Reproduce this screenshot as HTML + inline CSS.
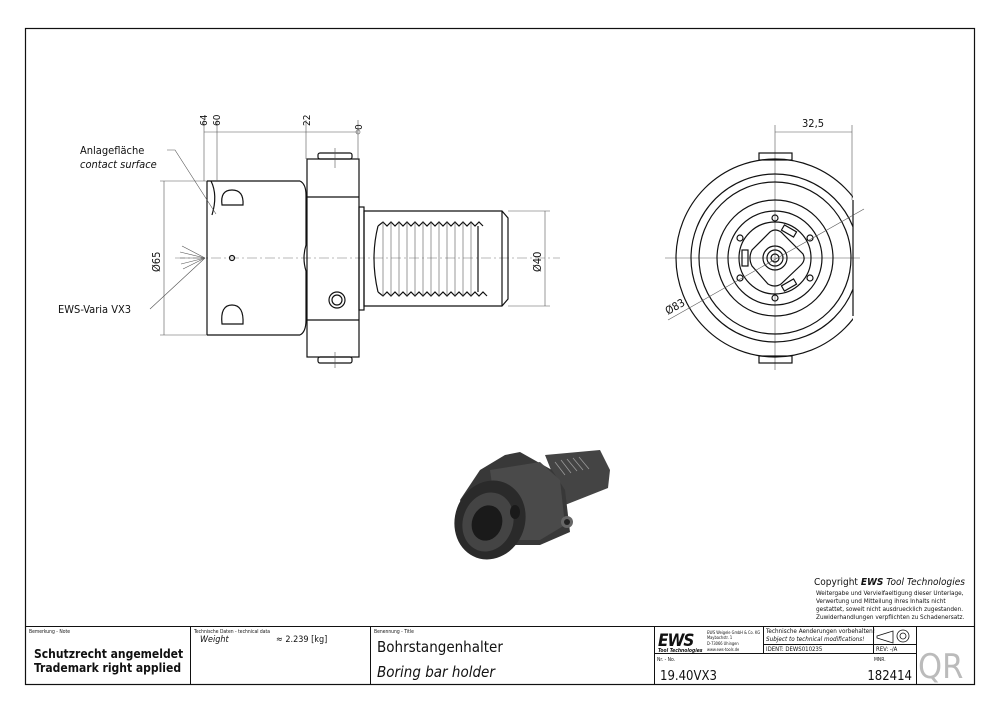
<!DOCTYPE html>
<html><head><meta charset="utf-8"><style>
html,body{margin:0;padding:0;background:#fff;}
svg{display:block;}
text{font-family:"DejaVu Sans Condensed","Liberation Sans",sans-serif;fill:#111;}
.s{fill:none;stroke:#111;stroke-width:1.2;}
.t{fill:none;stroke:#555;stroke-width:0.6;}
.c{fill:none;stroke:#777;stroke-width:0.6;stroke-dasharray:10 3 2 3;}
</style></head><body>
<svg width="1000" height="715" viewBox="0 0 1000 715" xmlns="http://www.w3.org/2000/svg">
<rect x="0" y="0" width="1000" height="715" fill="#fff"/>
<rect x="25.5" y="28.5" width="949" height="656" fill="none" stroke="#111" stroke-width="1.2"/>

<!-- SIDE VIEW -->
<line class="c" x1="175" y1="258" x2="560" y2="258"/>
<path class="s" d="M207 181 H300 M207 335 H300 M207 181 V335"/>
<path class="s" d="M300 181 Q306 184 306 195 V245 Q302 258 306 271 V320 Q306 332 300 335"/>
<rect class="s" x="307" y="159" width="52" height="198"/>
<line class="s" x1="307" y1="197" x2="359" y2="197"/>
<line class="s" x1="307" y1="320" x2="359" y2="320"/>
<rect class="s" x="318" y="153" width="34" height="6" rx="2"/>
<rect class="s" x="318" y="357" width="34" height="6" rx="2"/>
<line class="t" x1="335" y1="148" x2="335" y2="168"/>
<line class="t" x1="335" y1="352" x2="335" y2="368"/>
<rect class="s" x="359" y="207" width="5" height="103"/>
<path class="s" d="M364 211 H502 L508 218 V299 L502 306 H364 Z"/>
<line class="s" x1="502" y1="211" x2="502" y2="306"/>
<path class="s" d="M378 226 Q370 258 378 292"/>
<path class="s" d="M378 226 l5 -4 l4 4 l4 -4 l4 4 l4 -4 l4 4 l4 -4 l4 4 l4 -4 l4 4 l4 -4 l4 4 l4 -4 l4 4 l4 -4 l4 4 l4 -4 l4 4 l4 -4 l4 4 l4 -4 l4 4 l4 -4 l4 4 l4 -4 l4 4"/>
<path class="s" d="M378 292 l5 4 l4 -4 l4 4 l4 -4 l4 4 l4 -4 l4 4 l4 -4 l4 4 l4 -4 l4 4 l4 -4 l4 4 l4 -4 l4 4 l4 -4 l4 4 l4 -4 l4 4 l4 -4 l4 4 l4 -4 l4 4 l4 -4 l4 4 l4 -4 l4 4"/>
<g class="t"><line x1="383" y1="222" x2="383" y2="296"/><line x1="391" y1="222" x2="391" y2="296"/><line x1="399" y1="222" x2="399" y2="296"/><line x1="407" y1="222" x2="407" y2="296"/><line x1="415" y1="222" x2="415" y2="296"/><line x1="423" y1="222" x2="423" y2="296"/><line x1="431" y1="222" x2="431" y2="296"/><line x1="439" y1="222" x2="439" y2="296"/><line x1="447" y1="222" x2="447" y2="296"/><line x1="455" y1="222" x2="455" y2="296"/><line x1="463" y1="222" x2="463" y2="296"/><line x1="471" y1="222" x2="471" y2="296"/></g>
<line class="s" x1="478" y1="226" x2="478" y2="292"/>
<path class="s" d="M222 205 Q220 190 232 190 Q244 190 243 205 Z"/>
<path class="s" d="M222 324 Q220 305 232 305 Q244 305 243 324 Z"/>
<circle class="s" cx="232" cy="258" r="2.5"/>
<circle class="s" cx="337" cy="300" r="8"/><circle class="s" cx="337" cy="300" r="5"/>
<path class="s" d="M211 181 Q218 195 212 215"/>
<line class="t" x1="204" y1="132" x2="358" y2="132"/>
<line class="t" x1="204" y1="120" x2="204" y2="181"/><line class="t" x1="217" y1="120" x2="217" y2="181"/>
<line class="t" x1="306" y1="120" x2="306" y2="159"/><line class="t" x1="358" y1="120" x2="358" y2="159"/>
<circle class="t" cx="358" cy="132" r="2"/>
<text transform="translate(207,126) rotate(-90)" font-size="10">64</text>
<text transform="translate(220,126) rotate(-90)" font-size="10">60</text>
<text transform="translate(310,126) rotate(-90)" font-size="10">22</text>
<text transform="translate(362,130) rotate(-90)" font-size="10">0</text>
<line class="t" x1="160" y1="181" x2="207" y2="181"/><line class="t" x1="160" y1="335" x2="207" y2="335"/>
<line class="t" x1="164" y1="181" x2="164" y2="335"/>
<text transform="translate(160,272) rotate(-90)" font-size="11">Ø65</text>
<line class="t" x1="508" y1="211" x2="550" y2="211"/><line class="t" x1="508" y1="306" x2="550" y2="306"/>
<line class="t" x1="545" y1="211" x2="545" y2="306"/>
<text transform="translate(541,272) rotate(-90)" font-size="11">Ø40</text>
<text x="80" y="154" font-size="11">Anlagefläche</text>
<text x="80" y="168" font-size="11" font-style="italic">contact surface</text>
<path class="t" d="M167 150 L175 150 L216 214"/>
<text x="58" y="313" font-size="11">EWS-Varia VX3</text>
<path class="t" d="M150 309 L205 258"/>
<g class="t"><line x1="205" y1="258" x2="182" y2="246"/><line x1="205" y1="258" x2="180" y2="252"/><line x1="205" y1="258" x2="180" y2="258"/><line x1="205" y1="258" x2="181" y2="264"/><line x1="205" y1="258" x2="183" y2="269"/></g>

<!-- FRONT VIEW -->
<line class="t" x1="775" y1="125" x2="775" y2="370"/>
<line class="t" x1="665" y1="258" x2="860" y2="258"/>
<clipPath id="cf"><rect x="600" y="100" width="253" height="300"/></clipPath>
<g clip-path="url(#cf)">
<circle class="s" cx="775" cy="258" r="99"/>
<circle class="s" cx="775" cy="258" r="84"/>
<circle class="s" cx="775" cy="258" r="76"/>
</g>
<line class="s" x1="853" y1="200" x2="853" y2="316"/>
<rect class="s" x="759" y="153" width="33" height="7"/>
<rect class="s" x="759" y="356" width="33" height="7"/>
<circle class="s" cx="775" cy="258" r="58"/>
<circle class="s" cx="775" cy="258" r="47"/>
<circle class="s" cx="775" cy="258" r="36" stroke-width="1.8"/>
<path class="s" d="M770 232 Q775 228 781 232 L803 254 Q806 260 801 265 L781 284 Q775 288 768 284 L752 266 Q748 258 752 250 Z"/>
<circle class="s" cx="775" cy="258" r="12"/><circle class="s" cx="775" cy="258" r="8"/><circle class="s" cx="775" cy="258" r="4"/>
<g class="s"><circle cx="775" cy="218" r="3"/><circle cx="775" cy="298" r="3"/><circle cx="740" cy="238" r="3"/><circle cx="810" cy="238" r="3"/><circle cx="740" cy="278" r="3"/><circle cx="810" cy="278" r="3"/></g>
<rect class="s" x="742" y="250" width="6" height="16"/>
<rect class="s" x="782" y="228" width="14" height="6" transform="rotate(30 789 231)"/>
<rect class="s" x="782" y="282" width="14" height="6" transform="rotate(-30 789 285)"/>
<line class="t" x1="775" y1="132" x2="852" y2="132"/>
<line class="t" x1="852" y1="125" x2="852" y2="200"/>
<text x="802" y="127" font-size="11">32,5</text>
<line class="t" x1="668" y1="320" x2="864" y2="209"/>
<text transform="translate(668,315) rotate(-30)" font-size="11">Ø83</text>

<!-- 3D render -->
<g>
<path d="M545 455 L600 450 L610 470 L608 488 L565 505 Z" fill="#444"/>
<g stroke="#999" stroke-width="0.8"><line x1="555" y1="462" x2="565" y2="475"/><line x1="561" y1="460" x2="571" y2="473"/><line x1="567" y1="459" x2="577" y2="471"/><line x1="573" y1="458" x2="583" y2="470"/><line x1="579" y1="457" x2="589" y2="469"/></g>
<path d="M505 455 L520 452 L552 470 L565 490 L570 532 L540 545 L505 545 L470 525 L460 500 L480 470 Z" fill="#383838"/>
<path d="M490 470 L540 462 L560 480 L565 525 L540 540 L500 540 Z" fill="#4a4a4a"/>
<ellipse cx="490" cy="520" rx="35" ry="40" transform="rotate(20 490 520)" fill="#2a2a2a"/>
<ellipse cx="488" cy="522" rx="25" ry="30" transform="rotate(20 488 522)" fill="#444"/>
<ellipse cx="487" cy="523" rx="15" ry="18" transform="rotate(20 487 523)" fill="#1a1a1a"/>
<ellipse cx="515" cy="512" rx="5" ry="7" fill="#1a1a1a"/>
<circle cx="567" cy="522" r="6" fill="#666"/><circle cx="567" cy="522" r="3" fill="#222"/>
</g>

<!-- copyright -->
<text x="814" y="585" font-size="10" font-family="Liberation Sans">Copyright <tspan font-weight="bold" font-style="italic">EWS</tspan> <tspan font-style="italic">Tool Technologies</tspan></text>
<g font-size="6.4">
<text x="816" y="595" font-family="Liberation Sans">Weitergabe und Vervielfaeltigung dieser Unterlage,</text>
<text x="816" y="603" font-family="Liberation Sans">Verwertung und Mitteilung ihres Inhalts nicht</text>
<text x="816" y="611" font-family="Liberation Sans">gestattet, soweit nicht ausdruecklich zugestanden.</text>
<text x="816" y="619" font-family="Liberation Sans">Zuwiderhandlungen verpflichten zu Schadenersatz.</text>
</g>

<!-- title block -->
<g stroke="#111" stroke-width="1" fill="none">
<line x1="25" y1="626.5" x2="975" y2="626.5"/>
<line x1="190.5" y1="626" x2="190.5" y2="685"/>
<line x1="370.5" y1="626" x2="370.5" y2="685"/>
<line x1="654.5" y1="626" x2="654.5" y2="685"/>
<line x1="763.5" y1="626" x2="763.5" y2="653"/>
<line x1="873.5" y1="626" x2="873.5" y2="653"/>
<line x1="916.5" y1="626" x2="916.5" y2="685"/>
<line x1="654" y1="653.5" x2="916" y2="653.5"/>
<line x1="763" y1="644.5" x2="916" y2="644.5"/>
</g>
<g font-size="5" fill="#444">
<text x="29" y="633">Bemerkung - Note</text>
<text x="194" y="633">Technische Daten - technical data</text>
<text x="374" y="633">Benennung - Title</text>
<text x="657" y="661">Nr. - No.</text>
<text x="874" y="661">MNR.</text>
</g>
<text x="200" y="642" font-size="9" font-style="italic">Weight</text>
<text x="276" y="642" font-size="9">≈  2.239 [kg]</text>
<text x="34" y="658" font-size="12" font-weight="bold" font-family="Liberation Sans">Schutzrecht angemeldet</text>
<text x="34" y="672" font-size="12" font-weight="bold" font-family="Liberation Sans">Trademark right applied</text>
<text x="377" y="652" font-size="15">Bohrstangenhalter</text>
<text x="377" y="677" font-size="15" font-style="italic">Boring bar holder</text>
<text x="658" y="646" font-size="17" font-weight="bold" font-style="italic" font-family="Liberation Sans" letter-spacing="-1">EWS</text>
<text x="658" y="652" font-size="5" font-weight="bold" font-style="italic" font-family="Liberation Sans">Tool Technologies</text>
<g font-size="4"><text x="707" y="634" font-family="Liberation Sans">EWS Weigele GmbH &amp; Co. KG</text><text x="707" y="639" font-family="Liberation Sans">Maybachstr. 1</text><text x="707" y="645" font-family="Liberation Sans">D-73066 Uhingen</text><text x="707" y="651" font-family="Liberation Sans">www.ews-tools.de</text></g>
<text x="766" y="633" font-size="6.3">Technische Aenderungen vorbehalten!</text>
<text x="766" y="641" font-size="6.3" font-style="italic">Subject to technical modifications!</text>
<text x="766" y="651" font-size="6">IDENT:  DEWS010235</text>
<text x="876" y="651" font-size="6">REV:  -/A</text>
<path d="M877 636 L893 631 V643 L877 638 Z" fill="none" stroke="#111" stroke-width="0.8"/>
<circle cx="903" cy="636" r="6" fill="none" stroke="#111" stroke-width="0.8"/><circle cx="903" cy="636" r="3" fill="none" stroke="#111" stroke-width="0.8"/>
<text x="660" y="680" font-size="13">19.40VX3</text>
<text x="912" y="680" font-size="13" text-anchor="end">182414</text>
<text x="918" y="678" font-size="34" style="fill:#bbb">QR</text>
</svg>
</body></html>
